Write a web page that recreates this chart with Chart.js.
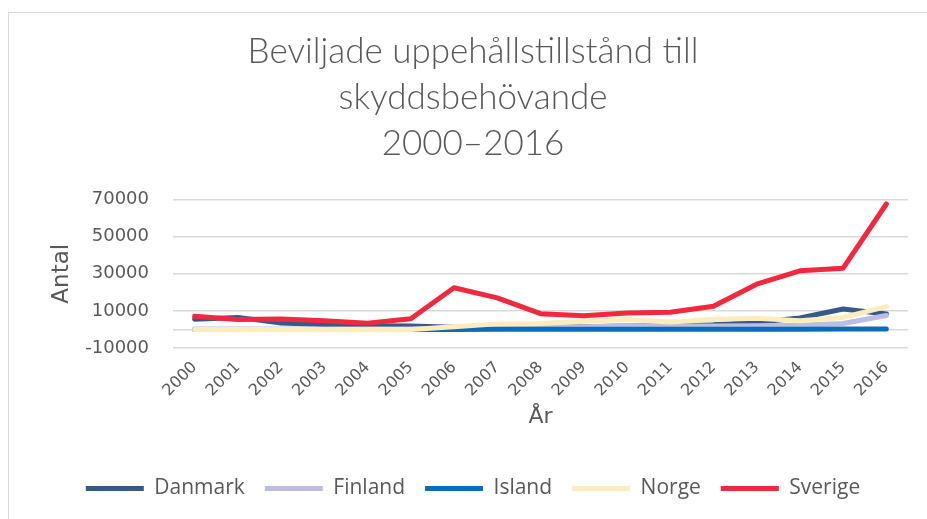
<!DOCTYPE html>
<html>
<head>
<meta charset="utf-8">
<script src="https://cdn.jsdelivr.net/npm/chart.js@4"></script>
<style>
  body { margin: 0; background: #fff; }
  #frame { position: absolute; left: 8px; top: 12px; width: 940px; height: 520px; border: 1px solid #d9d9d9; box-sizing: border-box; }
  #wrap { position: absolute; left: 0; top: 0; width: 927px; height: 519px; }
</style>
</head>
<body>
<div id="frame"></div>
<div id="wrap"><canvas id="chart" width="927" height="519"></canvas></div>
<script>
const years = ['2000','2001','2002','2003','2004','2005','2006','2007','2008','2009','2010','2011','2012','2013','2014','2015','2016'];
const danmark = [5500, 6500, 3500, 2700, 2000, 1800, 1200, 900, 1000, 1400, 1800, 2000, 2500, 3900, 6200, 11000, 8300];
const finland = [300, 300, 300, 300, 300, 300, 400, 600, 900, 1500, 2000, 1800, 1800, 2000, 2300, 3200, 7500];
const island = [0, 0, 0, 0, 0, 0, 0, 50, 50, 50, 50, 50, 100, 100, 100, 200, 300];
const norge = [0, 0, 0, 0, 0, 0, 1500, 3000, 3200, 4400, 5300, 4000, 5300, 6000, 4700, 6500, 12300];
const sverige = [7100, 5300, 5600, 4700, 3400, 5800, 22500, 17000, 8500, 7400, 8900, 9300, 12500, 24400, 31600, 33000, 67600];
const yTicks = [-10000, 0, 10000, 30000, 50000, 70000];

const grey = '#595959';

// listed top-down: first dataset is drawn on top, legend is reversed
const series = [
  { label: 'Sverige', data: sverige, color: '#f0293f' },
  { label: 'Norge', data: norge, color: '#fdedbc' },
  { label: 'Island', data: island, color: '#0a6dbb' },
  { label: 'Finland', data: finland, color: '#bdbde3' },
  { label: 'Danmark', data: danmark, color: '#345a8c' }
];

new Chart(document.getElementById('chart'), {
  type: 'line',
  data: {
    labels: years,
    datasets: series.map(s => ({
      label: s.label,
      data: s.data,
      borderColor: s.color,
      backgroundColor: s.color,
      borderWidth: 5,
      borderCapStyle: 'round',
      borderJoinStyle: 'round',
      pointRadius: 0,
      tension: 0
    }))
  },
  options: {
    responsive: false,
    animation: false,
    layout: { padding: { left: 38, right: 19, top: 0, bottom: 10 } },
    plugins: {
      tooltip: { enabled: false },
      title: {
        display: true,
        text: ['Beviljade uppehållstillstånd till', 'skyddsbehövande', '2000–2016'],
        color: grey,
        font: { family: 'Lato', size: 35, weight: '300', lineHeight: 1.31 },
        padding: { top: 29, bottom: 33 }
      },
      legend: {
        position: 'bottom',
        reverse: true,
        labels: {
          usePointStyle: true,
          pointStyle: 'line',
          pointStyleWidth: 58,
          boxHeight: 21,
          padding: 20,
          color: grey,
          font: { family: 'Open Sans', size: 21 }
        }
      }
    },
    scales: {
      x: {
        offset: true,
        grid: { display: false },
        border: { display: false },
        ticks: {
          color: grey,
          font: { family: 'DejaVu Sans', size: 16 },
          maxRotation: 45,
          minRotation: 45,
          padding: 2
        },
        title: {
          display: true,
          text: 'År',
          color: grey,
          font: { family: 'DejaVu Sans', size: 22 },
          padding: { top: 0, bottom: 28 }
        },
        afterFit: s => { s.height = 110; }
      },
      y: {
        min: -10000,
        max: 70000,
        afterBuildTicks: s => { s.ticks = yTicks.map(v => ({ value: v })); },
        grid: { color: '#d9d9d9', lineWidth: 1.5, drawTicks: false },
        border: { display: false },
        ticks: {
          color: grey,
          font: { family: 'DejaVu Sans', size: 18 },
          padding: 24,
          callback: v => (v === 0 ? '' : String(v))
        },
        title: {
          display: true,
          text: 'Antal',
          color: grey,
          font: { family: 'DejaVu Sans', size: 23 },
          padding: { top: 10, bottom: 0 }
        },
        afterFit: s => { s.width = 135; }
      }
    }
  }
});
</script>
</body>
</html>
